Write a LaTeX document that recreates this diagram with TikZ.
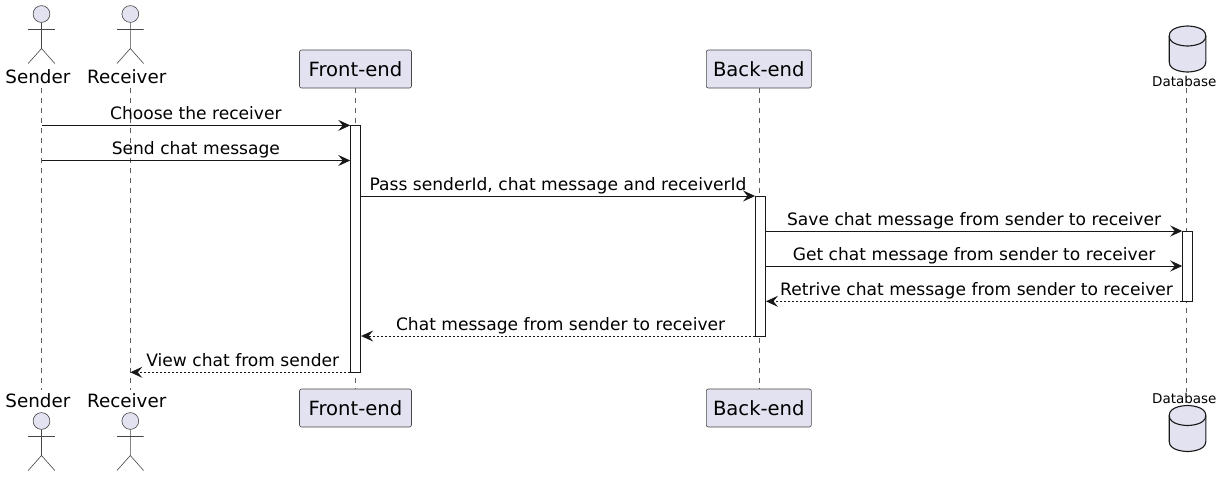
\documentclass[tikz,border=0pt]{standalone}
\usepackage{fontspec}
\setmainfont{DejaVu Sans}
\usetikzlibrary{%
    arrows.meta,
    backgrounds,
    calc,
    positioning
}
\definecolor{partfill}{HTML}{E2E2F0}
\definecolor{partline}{HTML}{181818}
\tikzset{
    lifeline/.style={draw=partline!70,line width=.6pt,dash pattern=on 5pt off 5pt},
    partbox/.style={draw=partline!80,fill=partfill,line width=.6pt,rounded corners=2pt,
                    minimum height=38pt,inner xsep=0pt,font=\fontsize{19.6}{21}\selectfont},
    actorlabel/.style={inner sep=0pt,font=\fontsize{18.3}{20}\selectfont},
    dblabel/.style={inner sep=0pt,font=\fontsize{13.5}{15}\selectfont},
    activation/.style={draw=partline,fill=white,line width=.9pt,minimum width=10pt,inner sep=0pt},
    msg/.style={draw=partline,line width=.9pt,-{Stealth[length=12pt,width=11pt,inset=4.5pt]}},
    reply/.style={msg,dash pattern=on 2pt off 2pt,every node/.append style={xshift=2.5pt}},
    msglabel/.style={above=2pt,inner sep=0pt,text height=12pt,text depth=3.5pt,
                     font=\fontsize{17.1}{19}\selectfont},
    actor/.pic={
        \draw[draw=partline!80,fill=partfill,line width=.6pt] (0,8.5) circle (8.4pt);
        \draw[draw=partline!80,line width=.6pt]
            (0,17) -- (0,43) (-13.3,24) -- (13.3,24)
            (-13.3,58) -- (0,43) -- (13.3,58);
    },
    database/.pic={
        \draw[draw=partline,fill=partfill,line width=1.1pt]
            (-18.3,10) .. controls (-18.3,0) and (0,0) .. (0,0)
            .. controls (0,0) and (18.3,0) .. (18.3,10)
            -- (18.3,36) .. controls (18.3,46) and (0,46) .. (0,46)
            .. controls (0,46) and (-18.3,46) .. (-18.3,36) -- cycle;
        \draw[draw=partline,line width=1.1pt]
            (-18.3,10) .. controls (-18.3,20) and (0,20) .. (0,20)
            .. controls (0,20) and (18.3,20) .. (18.3,10);
    }
}

\begin{document}
\begin{tikzpicture}[x=1pt,y=-1pt]
    \useasboundingbox (0,0) rectangle (1221,477);

    % people
    \foreach \Name/\Text/\X in {sender/Sender/41.5,receiver/Receiver/130.3} {
        \pic at (\X,5.5) {actor};
        \pic at (\X,412.5) {actor};
        \node[actorlabel] (\Name-top) at (\X-3.6,77) {\Text};
        \node[actorlabel] (\Name-bot) at (\X-3.6,401) {\Text};
        \coordinate (\Name-start) at (\X,88);
        \coordinate (\Name-end) at (\X,390);
    }

    % boxes
    \foreach \Name/\Text/\X/\Wd in {front/Front-end/355.5/112,back/Back-end/758.8/105} {
        \node[partbox,minimum width=\Wd] (\Name-top) at (\X,69) {\Text};
        \node[partbox,minimum width=\Wd] (\Name-bot) at (\X,408) {\Text};
        \coordinate (\Name-start) at (\Name-top.south);
        \coordinate (\Name-end) at (\Name-bot.north);
    }

    % database
    \pic at (1187.5,26) {database};
    \pic at (1187.5,405.5) {database};
    \node[dblabel] (db-top) at (1184.3,81) {Database};
    \node[dblabel] (db-bot) at (1184.3,398) {Database};
    \coordinate (db-start) at (1186.3,88);
    \coordinate (db-end) at (1186.3,392);

    \begin{pgfonlayer}{background}
        \foreach \Name in {sender,receiver,front,back,db}
            \draw[lifeline] (\Name-start) to (\Name-end);
    \end{pgfonlayer}

    % activations
    \foreach \Name/\X/\Start/\End in {front/355.7/125.4/372.3,back/760.5/196/336,db/1187.7/231/301.3}
        \node[activation,minimum height=\End-\Start,anchor=north] (\Name-act) at (\X,\Start) {};

    % rows
    \foreach \Row/\Y in {1/125.4,2/160.5,3/196,4/231,5/266,6/301.3,7/336,8/372.3}
        \coordinate (row\Row) at (0,\Y);

    \foreach \From/\To/\Row/\Kind/\Text in {%
        sender-start/front-act.west/1/msg/Choose the receiver,
        sender-start/front-act.west/2/msg/Send chat message,
        front-act.east/back-act.west/3/msg/{Pass senderId, chat message and receiverId},
        back-act.east/db-act.west/4/msg/Save chat message from sender to receiver,
        back-act.east/db-act.west/5/msg/Get chat message from sender to receiver,
        db-act.west/back-act.east/6/reply/Retrive chat message from sender to receiver,
        back-act.west/front-act.east/7/reply/Chat message from sender to receiver,
        front-act.west/receiver-start/8/reply/View chat from sender%
        }
        \draw[\Kind] (\From |- row\Row) to node[msglabel] (msg\Row) {\Text} (\To |- row\Row);
\end{tikzpicture}
\end{document}
